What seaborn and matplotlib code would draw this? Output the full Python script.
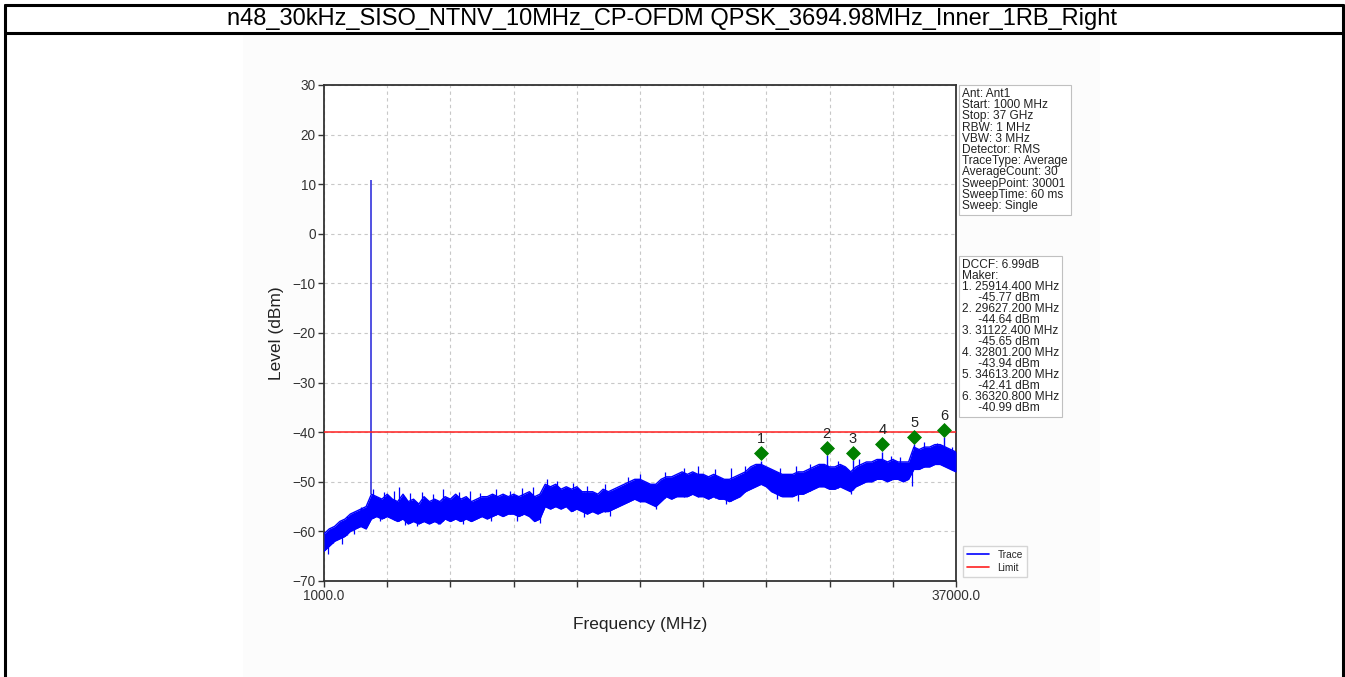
import numpy as np
import pandas as pd
import matplotlib
matplotlib.use("Agg")
import matplotlib.pyplot as plt
import seaborn as sns
from matplotlib.patches import Rectangle
from matplotlib.lines import Line2D

sns.set_theme(style="ticks")
plt.rcParams['font.family'] = ['Liberation Sans', 'DejaVu Sans']

TITLE = "n48_30kHz_SISO_NTNV_10MHz_CP-OFDM QPSK_3694.98MHz_Inner_1RB_Right"

# ---- data ----
start_mhz = 1000.0
stop_mhz = 37000.0
# noise band of the trace, lower and upper edge (dBm), sampled every 300 MHz from 1000 to 37000 MHz
trace_low = [
    -64, -63, -62, -61.5, -61, -60, -59.5, -59, -59.5, -57.5,
    -57, -57.5, -57, -57.5, -58, -57.5, -58.5, -58, -58.5, -58,
    -58.5, -58, -58.5, -57.5, -58, -57.5, -58, -57.5, -58, -57.5,
    -57, -57.5, -57, -56.5, -57, -56.5, -56.5, -57, -56.5, -57,
    -58, -57.5, -55, -55.5, -55, -55.5, -55, -56, -55.5, -56,
    -56.5, -56, -56.5, -56, -56, -55.5, -55, -54.5, -54, -53.5,
    -54, -54, -54.5, -55, -54, -53, -53.5, -53, -53, -53,
    -52.5, -53, -53, -53.5, -53, -53.5, -53.5, -54, -53.5, -53,
    -52, -51.5, -51, -50.5, -51, -52, -52.5, -53, -53, -53,
    -52.5, -52.5, -52, -51.5, -51, -51, -51.5, -51.5, -51, -51.5,
    -52, -51, -50.5, -50, -50, -49.5, -49.5, -50, -49.5, -49.5,
    -50, -49.5, -47.5, -47.5, -47, -47, -46.5, -46.5, -47, -47.5,
    -48,
]
trace_high = [
    -60.5, -59.5, -59, -58, -57.5, -56.5, -56, -55.5, -55, -52.5,
    -53, -53.5, -52.5, -53.5, -54, -52.5, -54, -53.5, -54.5, -53,
    -54, -53.5, -54, -53, -53.5, -52.5, -53.5, -53, -54, -53.5,
    -53, -53, -52.5, -53, -52.5, -53, -52.5, -53, -52.5, -52,
    -53, -52.5, -50.5, -51, -50.5, -51.5, -51, -51.5, -51, -52,
    -52, -52, -52.5, -51.5, -52, -51.5, -51, -50.5, -50, -49.5,
    -49.5, -50, -50.5, -50.5, -49.5, -49, -49, -48.5, -48, -48.5,
    -48, -48.5, -48.5, -49, -48.5, -49, -49.5, -49.5, -49, -48.5,
    -48, -47, -46.5, -46.5, -47, -47.5, -48, -48.5, -48.5, -48.5,
    -48, -48, -47.5, -47, -46.5, -46.5, -47, -47, -46.5, -47,
    -48, -47, -46.5, -46, -46, -45.5, -45.5, -46, -45.5, -46,
    -46, -46, -43, -43.5, -43, -43, -42.5, -42.5, -43, -43.5,
    -44,
]
# carrier
carrier_mhz = 3694.98
carrier_dbm = 10.8
# isolated noise peaks above the band
spike_up_mhz = [1500, 2300, 3100, 3800, 4400, 5000, 5300, 5900, 6600, 7200, 7800, 8700, 9300,
                9900, 10800, 11600, 12300, 12900, 13700, 14300, 15200, 16000, 17000, 18300,
                19000, 20400, 21500, 22300, 23300, 24200, 25000, 27000, 27900, 28700, 30300,
                31500, 33300, 33800, 35200, 35900, 36800]
spike_up_dbm = [-59.5, -56.8, -55.0, -51.5, -52.0, -51.8, -51.0, -52.3, -52.0, -52.5, -51.5, -52.0,
                -51.8, -52.2, -51.5, -51.8, -51.2, -51.0, -49.5, -49.8, -50.2, -50.8, -50.5, -49.0,
                -48.5, -48.0, -47.2, -46.8, -47.5, -47.2, -46.8, -47.2, -46.8, -46.5, -45.8,
                -45.5, -44.8, -45.0, -42.0, -42.2, -43.0]
# isolated noise dips below the band
spike_dn_mhz = [1200, 2000, 2700, 4200, 5600, 6300, 7500, 8900, 10500, 12000, 13300, 15800,
                17300, 19900, 23900, 26800, 28000, 31000, 34500]
spike_dn_dbm = [-64.5, -62.5, -60.5, -58.0, -58.8, -59.0, -58.6, -58.5, -58.0, -58.0, -58.4, -57.0,
                -56.8, -55.5, -54.5, -53.5, -53.8, -52.5, -50.8]
limit_dbm = -40.0
# markers
marker_no = ["1", "2", "3", "4", "5", "6"]
marker_mhz = [25914.4, 29627.2, 31122.4, 32801.2, 34613.2, 36320.8]
marker_dbm = [-45.77, -44.64, -45.65, -43.94, -42.41, -40.99]

info_lines = ["Ant: Ant1", "Start: 1000 MHz", "Stop: 37 GHz", "RBW: 1 MHz", "VBW: 3 MHz",
              "Detector: RMS", "TraceType: Average", "AverageCount: 30", "SweepPoint: 30001",
              "SweepTime: 60 ms", "Sweep: Single"]
marker_lines = ["DCCF: 6.99dB", "Maker:"]
for n, f, v in zip(marker_no, marker_mhz, marker_dbm):
    marker_lines.append(f"{n}. {f:.3f} MHz")
    marker_lines.append(f"     {v:.2f} dBm")

# ---- figure ----
W, H = 1345, 677
fig = plt.figure(figsize=(W / 100, H / 100), dpi=100)
fig.patch.set_facecolor("white")

# table frame and embedded chart background
fig.add_artist(Rectangle((243 / W, 0), (1100 - 243) / W, (H - 35) / H, transform=fig.transFigure,
                         facecolor="#fcfcfc", edgecolor="none", zorder=0))
for (x0, y0, x1, y1) in [(5, 5, 1343, 5), (5, 33, 1343, 33), (5, 5, 5, 677), (1343, 5, 1343, 677)]:
    fig.add_artist(Line2D([x0 / W, x1 / W], [1 - y0 / H, 1 - y1 / H], transform=fig.transFigure,
                          color="black", lw=2.2, zorder=5))
fig.text(672 / W, 1 - 19 / H, TITLE, ha="center", va="center", fontsize=17, color="black")

ax = fig.add_axes([324 / W, 1 - 581 / H, (956 - 324) / W, (581 - 85) / H])
ax.set_facecolor("white")

freq = np.linspace(start_mhz, stop_mhz, len(trace_low))
df = pd.DataFrame({"freq": freq, "low": trace_low, "high": trace_high})
blue = "#0000ff"
ax.fill_between(df["freq"], df["low"], df["high"], color=blue, lw=0, zorder=3)
sns.lineplot(data=df, x="freq", y="low", ax=ax, color=blue, lw=1.0, zorder=3)
sns.lineplot(data=df, x="freq", y="high", ax=ax, color=blue, lw=1.0, zorder=3)

ax.vlines(spike_up_mhz, np.interp(spike_up_mhz, freq, trace_low), spike_up_dbm,
          color=blue, lw=0.9, zorder=3)
ax.vlines(spike_dn_mhz, spike_dn_dbm, np.interp(spike_dn_mhz, freq, trace_high),
          color=blue, lw=0.9, zorder=3)
ax.vlines(marker_mhz, np.interp(marker_mhz, freq, trace_low), marker_dbm,
          color=blue, lw=1.0, zorder=3)
ax.vlines([carrier_mhz], [np.interp(carrier_mhz, freq, trace_high)], [carrier_dbm],
          color="#3333dd", lw=1.2, zorder=3)

ax.axhline(limit_dbm, color="#ff2020", lw=1.1, zorder=4)

mdf = pd.DataFrame({"freq": marker_mhz, "level": np.array(marker_dbm) + 1.5, "no": marker_no})
sns.scatterplot(data=mdf, x="freq", y="level", ax=ax, marker="D", s=50, color="#008000",
                edgecolor="#008000", zorder=6, legend=False)
for _, r in mdf.iterrows():
    ax.annotate(r["no"], (r["freq"], r["level"]), xytext=(0, 5), textcoords="offset points",
                ha="center", va="bottom", fontsize=10.5, color="#222222", zorder=7)

ax.set_xlim(start_mhz, stop_mhz)
ax.set_ylim(-70, 30)
xt = np.linspace(start_mhz, stop_mhz, 11)
ax.set_xticks(xt)
ax.set_xticklabels(["1000.0"] + [""] * 9 + ["37000.0"])
ax.set_yticks(np.arange(-70, 31, 10))
ax.tick_params(axis="both", direction="out", length=4, width=1, colors="#333333",
               labelsize=9.8, labelcolor="#333333", pad=2)
ax.grid(True, ls=(0, (3, 3)), color="#c8c8c8", lw=0.8, zorder=1)
for s in ax.spines.values():
    s.set_color("#333333")
    s.set_linewidth(1.3)
ax.set_xlabel("Frequency (MHz)", fontsize=12.5, color="#222222", labelpad=10)
ax.set_ylabel("Level (dBm)", fontsize=12.5, color="#222222", labelpad=6)

handles = [Line2D([], [], color=blue, lw=1.2), Line2D([], [], color="#ff2020", lw=1.2)]
fig.legend(handles, ["Trace", "Limit"], loc="lower left", bbox_to_anchor=(958 / W, 1 - 582 / H),
           fontsize=7.3, frameon=True, fancybox=False, edgecolor="#cccccc", handlelength=2.2,
           borderpad=0.4, labelspacing=0.3, handletextpad=0.8)

bbox = dict(boxstyle="square,pad=0.25", facecolor="white", edgecolor="#c0c0c0", lw=0.8)
fig.text(962 / W, 1 - 88 / H, "\n".join(info_lines), ha="left", va="top", fontsize=8.6,
         color="#222222", linespacing=0.91, bbox=bbox)
fig.text(962 / W, 1 - 259 / H, "\n".join(marker_lines), ha="left", va="top", fontsize=8.6,
         color="#222222", linespacing=0.89, bbox=bbox)

fig.savefig("out.png", dpi=100)
